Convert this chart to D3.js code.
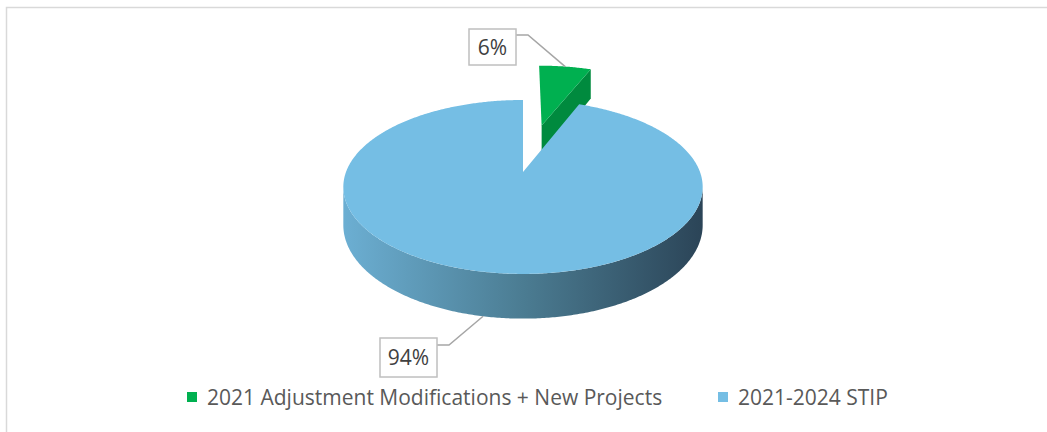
<!DOCTYPE html>
<html>
<head>
<meta charset="utf-8">
<script src="https://cdn.jsdelivr.net/npm/d3@7"></script>
<style>
  body { margin: 0; background: #fff; }
  svg { display: block; font-family: "Open Sans", sans-serif; }
</style>
</head>
<body>
<div id="chart"></div>
<script>
const width = 1047;
const height = 432;

// chart data
const categories = ['2021 Adjustment Modifications + New Projects', '2021-2024 STIP'];
const shares = [6, 94];
const topColors = ['#00b050', '#75bee4'];
const sideColors = ['#008a3e', '#4c7d93'];
const explode = [0.62, 0];

// 3D pie view (center of the disc, radii, perspective, thickness)
const cx = 523, cy = 172, rx = 177, ry = 84.4, persp = 0.172, depth = 37;

// label boxes and legend layout
const labelBoxes = [
  { x: 469, y: 29, w: 47, h: 36 },
  { x: 380, y: 338, w: 57, h: 39 }
];
const legendX = [187, 718];
const legendY = 392;

const svg = d3.select('#chart')
  .append('svg')
  .attr('width', width)
  .attr('height', height);

// gradient for the cylinder wall
const grad = svg.append('defs').append('linearGradient')
  .attr('id', 'wall')
  .attr('gradientUnits', 'userSpaceOnUse')
  .attr('x1', cx - rx * 1.02).attr('x2', cx + rx * 1.02)
  .attr('y1', 0).attr('y2', 0);
grad.append('stop').attr('offset', '0%').attr('stop-color', '#6cafd3');
grad.append('stop').attr('offset', '50%').attr('stop-color', '#4b7c92');
grad.append('stop').attr('offset', '100%').attr('stop-color', '#2b4457');

// frame
svg.append('path')
  .attr('d', `M6.5,${height}V7.5H${width}`)
  .attr('fill', 'none')
  .attr('stroke', '#d9d9d9')
  .attr('stroke-width', 1.5);

// project a point of the disc: X right, Y towards viewer, Z down (0 top, 1 bottom)
function proj(X, Y, Z) {
  const k = 1 / (1 - persp * Y);
  return [cx + rx * X * k, cy + ry * Y * k + depth * Z * k];
}

function pt(angle, r, off, Z) {
  return proj(off[0] + r * Math.sin(angle), off[1] - r * Math.cos(angle), Z);
}

function arcPts(a0, a1, off, Z) {
  const n = Math.max(2, Math.ceil(Math.abs(a1 - a0) / 0.01));
  return d3.range(n + 1).map(i => pt(a0 + (a1 - a0) * i / n, 1, off, Z));
}

const line = d3.line();

const pie = d3.pie().sort(null).value(d => d);
const arcs = pie(shares);

const silA = Math.acos(-persp);
const silB = 2 * Math.PI - silA;

arcs.forEach((d, i) => {
  const mid = (d.startAngle + d.endAngle) / 2;
  const off = [explode[i] * Math.sin(mid), -explode[i] * Math.cos(mid)];
  const g = svg.append('g');

  // radial faces
  if (Math.sin(d.endAngle) > 0.001) {
    const p = [pt(d.endAngle, 0, off, 0), pt(d.endAngle, 1, off, 0),
               pt(d.endAngle, 1, off, 1), pt(d.endAngle, 0, off, 1)];
    g.append('path').attr('d', line(p) + 'Z').attr('fill', sideColors[i]);
  }
  if (Math.sin(d.startAngle) < -0.001) {
    const p = [pt(d.startAngle, 0, off, 0), pt(d.startAngle, 1, off, 0),
               pt(d.startAngle, 1, off, 1), pt(d.startAngle, 0, off, 1)];
    g.append('path').attr('d', line(p) + 'Z').attr('fill', sideColors[i]);
  }

  // outer wall
  const w0 = Math.max(d.startAngle, silA), w1 = Math.min(d.endAngle, silB);
  if (w1 > w0) {
    const p = arcPts(w0, w1, off, 0).concat(arcPts(w1, w0, off, 1));
    g.append('path').attr('d', line(p) + 'Z')
      .attr('fill', i === 1 ? 'url(#wall)' : sideColors[i]);
  }

  // top face
  const top = [pt(0, 0, off, 0)].concat(arcPts(d.startAngle, d.endAngle, off, 0));
  g.append('path').attr('d', line(top) + 'Z').attr('fill', topColors[i]);
});

// data labels with leader lines
arcs.forEach((d, i) => {
  const mid = (d.startAngle + d.endAngle) / 2;
  const off = [explode[i] * Math.sin(mid), -explode[i] * Math.cos(mid)];
  const front = -Math.cos(mid) > 0;
  const anchor = pt(mid, 1, off, front ? 1 : 0);
  const b = labelBoxes[i];
  const ly = front ? b.y + 7 : b.y + 6;
  svg.append('path')
    .attr('d', line([[b.x + b.w, ly], [b.x + b.w + 12, ly], anchor]))
    .attr('fill', 'none')
    .attr('stroke', '#a6a6a6')
    .attr('stroke-width', 1.5);
  svg.append('rect')
    .attr('x', b.x).attr('y', b.y)
    .attr('width', b.w).attr('height', b.h)
    .attr('fill', '#fff')
    .attr('stroke', '#bfbfbf')
    .attr('stroke-width', 1.5);
  svg.append('text')
    .attr('x', b.x + b.w / 2)
    .attr('y', b.y + b.h / 2 + 7.5)
    .attr('text-anchor', 'middle')
    .style('font-size', '21px')
    .style('fill', '#404040')
    .text(d3.format('.0%')(d.data / d3.sum(shares)));
});

// legend
const legend = svg.selectAll('g.legend')
  .data(categories)
  .join('g')
  .attr('class', 'legend')
  .attr('transform', (d, i) => `translate(${legendX[i]},${legendY})`);

legend.append('rect')
  .attr('width', 10).attr('height', 10)
  .attr('fill', (d, i) => topColors[i]);

legend.append('text')
  .attr('x', 20)
  .attr('y', 13)
  .style('font-size', '21px')
  .style('fill', '#595959')
  .text(d => d);
</script>
</body>
</html>
